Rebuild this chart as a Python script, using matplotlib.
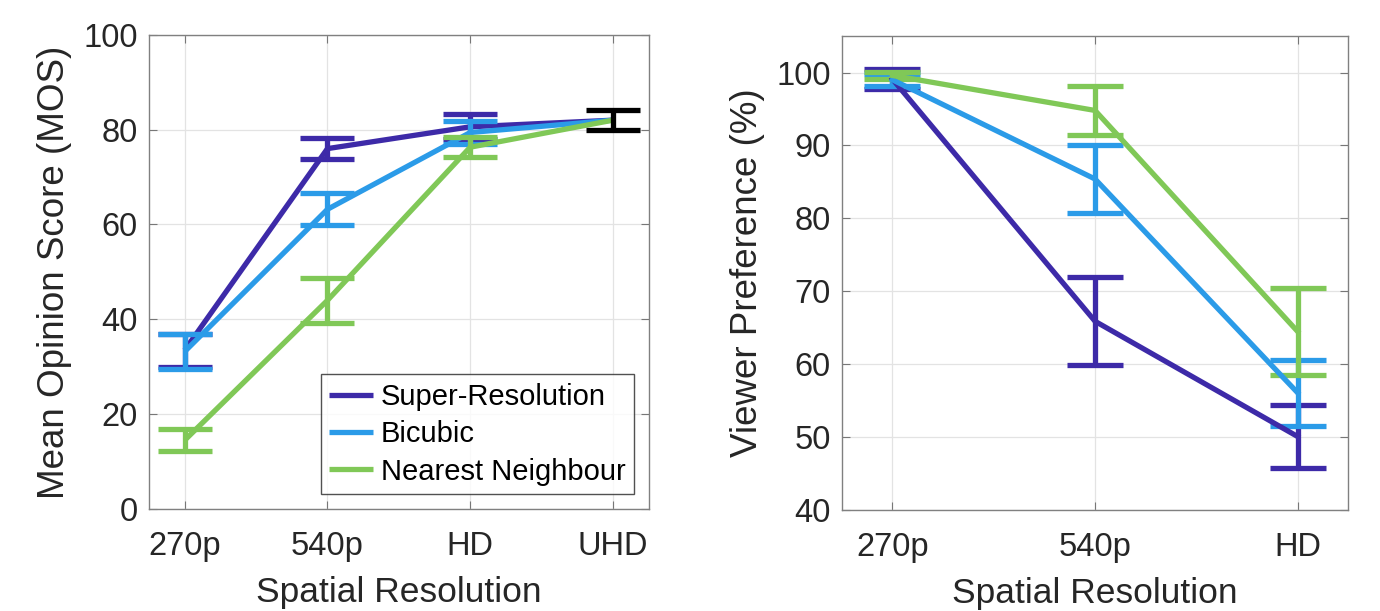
import numpy as np
import matplotlib.pyplot as plt

plt.rcParams['font.family'] = ['Liberation Sans', 'DejaVu Sans']

# datos panel izquierdo (MOS)
res_left = ['270p', '540p', 'HD', 'UHD']
mos_sr = [33.5, 76.0, 80.6, 82.0]
mos_sr_err = [3.5, 2.2, 2.6]
mos_bic = [33.2, 63.2, 79.4, 82.0]
mos_bic_err = [3.6, 3.4, 2.5]
mos_nn = [14.5, 44.0, 76.3, 82.0]
mos_nn_err = [2.3, 4.8, 2.1]
mos_uhd = 82.0
mos_uhd_err = 2.1

# datos panel derecho (preferencia)
res_right = ['270p', '540p', 'HD']
pref_sr = [99.1, 65.9, 50.1]
pref_sr_err = [1.4, 6.0, 4.3]
pref_bic = [99.0, 85.4, 56.1]
pref_bic_err = [0.8, 4.7, 4.5]
pref_nn = [99.6, 94.8, 64.5]
pref_nn_err = [0.45, 3.3, 5.9]

c_sr = '#3d2aa8'
c_bic = '#2b9be8'
c_nn = '#80c857'
txt = '#262626'
lw = 3.8
cap = 19.5

fig = plt.figure(figsize=(13.8, 6.11), dpi=100)
ax1 = fig.add_axes([0.108, 0.167, 0.362, 0.776])
ax2 = fig.add_axes([0.610, 0.165, 0.367, 0.776])

x1 = np.arange(1, len(res_left) + 1)
for vals, errs, col, lab in [(mos_sr, mos_sr_err, c_sr, 'Super-Resolution'),
                             (mos_bic, mos_bic_err, c_bic, 'Bicubic'),
                             (mos_nn, mos_nn_err, c_nn, 'Nearest Neighbour')]:
    ax1.plot(x1, vals, color=col, lw=lw, label=lab, solid_capstyle='butt')
    ax1.errorbar(x1[:3], vals[:3], yerr=errs, fmt='none', ecolor=col,
                 elinewidth=lw, capsize=cap, capthick=lw)
ax1.errorbar([x1[3]], [mos_uhd], yerr=[mos_uhd_err], fmt='none', ecolor='black',
             elinewidth=lw, capsize=cap, capthick=lw)

x2 = np.arange(1, len(res_right) + 1)
for vals, errs, col in [(pref_sr, pref_sr_err, c_sr),
                        (pref_bic, pref_bic_err, c_bic),
                        (pref_nn, pref_nn_err, c_nn)]:
    ax2.errorbar(x2, vals, yerr=errs, color=col, lw=lw, elinewidth=lw,
                 capsize=cap + 1, capthick=lw)

ax1.set_xlim(0.75, 4.25)
ax1.set_ylim(0, 100)
ax1.set_yticks(np.arange(0, 101, 20))
ax1.set_xticks(x1)
ax1.set_xticklabels(res_left)
ax1.set_ylabel('Mean Opinion Score (MOS)', fontsize=26.5, color=txt, labelpad=8)
ax1.set_xlabel('Spatial Resolution', fontsize=25.5, color=txt, labelpad=10)

ax2.set_xlim(0.75, 3.25)
ax2.set_ylim(40, 105)
ax2.set_yticks(np.arange(40, 101, 10))
ax2.set_xticks(x2)
ax2.set_xticklabels(res_right)
ax2.set_ylabel('Viewer Preference (%)', fontsize=26.5, color=txt, labelpad=8)
ax2.set_xlabel('Spatial Resolution', fontsize=25.5, color=txt, labelpad=10)

for ax in (ax1, ax2):
    ax.grid(True, color='#e3e3e3', lw=0.9)
    ax.set_axisbelow(True)
    ax.tick_params(direction='in', top=True, right=True, length=6,
                   labelsize=23.5, labelcolor=txt, color='#777777', pad=8)
    ax.tick_params(axis='x', pad=16)
    for s in ax.spines.values():
        s.set_color('#808080')
        s.set_linewidth(1.0)

leg = ax1.legend(loc='lower right', fontsize=21, frameon=True, fancybox=False,
                 borderaxespad=0.5, handlelength=1.5, handletextpad=0.25,
                 labelspacing=0.32, borderpad=0.3)
leg.get_frame().set_edgecolor('#262626')
leg.get_frame().set_linewidth(1.0)
for t in leg.get_texts():
    t.set_color('black')

fig.savefig('out.png', dpi=100)
